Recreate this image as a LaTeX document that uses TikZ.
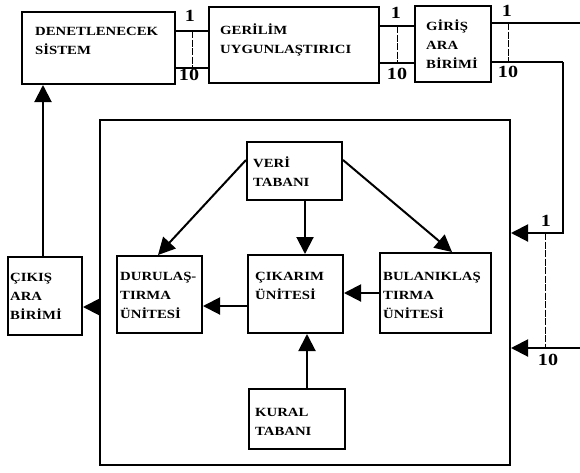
\documentclass[tikz,border=0pt]{standalone}
\usepackage{fontspec}
\setmainfont{Liberation Serif}[FakeStretch=1.18]
\usetikzlibrary{arrows.meta}

\begin{document}
\begin{tikzpicture}[x=1pt,y=-1pt,
    kutu/.style={draw,line width=2pt,inner sep=0pt},
    yazi/.style={anchor=base west,align=left,inner sep=0pt,font=\fontsize{12.5}{19}\selectfont\bfseries},
    sayi/.style={inner sep=0pt,font=\fontsize{17}{17}\selectfont\bfseries},
    hat/.style={line width=2pt},
    ok/.style={line width=2pt,-{Triangle[length=17pt,width=17pt]}},
    ara/.style={line width=0.8pt,dash pattern=on 7pt off 1.5pt}]
        \useasboundingbox (0,0) rectangle (580,472);
        \node[kutu,minimum width=153pt,minimum height=72pt] (sistem) at (98.5,48) {};
        \node[kutu,minimum width=170pt,minimum height=76pt] (gerilim) at (294,45) {};
        \node[kutu,minimum width=76pt,minimum height=76pt] (giris) at (453,44) {};
        \node[kutu,minimum width=410pt,minimum height=345pt] (ana) at (305,292.5) {};
        \node[kutu,minimum width=95pt,minimum height=58pt] (veri) at (294.5,171) {};
        \node[kutu,minimum width=95pt,minimum height=78pt] (cikarim) at (295.5,294) {};
        \node[kutu,minimum width=111pt,minimum height=80pt] (bulanik) at (435.5,293) {};
        \node[kutu,minimum width=85pt,minimum height=77pt] (durulas) at (159.5,294.5) {};
        \node[kutu,minimum width=74pt,minimum height=78pt] (cikis) at (45,296) {};
        \node[kutu,minimum width=96pt,minimum height=60pt] (kural) at (297,419) {};
        \node[yazi] (tsistem) at (35,54) {DENETLENECEK\\SİSTEM};
        \node[yazi] (tgerilim) at (220,53) {GERİLİM\\UYGUNLAŞTIRICI};
        \node[yazi] (tgiris) at (426,68) {GİRİŞ\\ARA\\BİRİMİ};
        \node[yazi] (tveri) at (253,186) {VERİ\\TABANI};
        \node[yazi] (tcikarim) at (255,299) {ÇIKARIM\\ÜNİTESİ};
        \node[yazi] (tbulanik) at (383,318) {BULANIKLAŞ\\TIRMA\\ÜNİTESİ};
        \node[yazi] (tdurulas) at (120,318) {DURULAŞ-\\TIRMA\\ÜNİTESİ};
        \node[yazi] (tcikis) at (10,319) {ÇIKIŞ\\ARA\\BİRİMİ};
        \node[yazi] (tkural) at (255,435) {KURAL\\TABANI};
        \coordinate (sag1) at (580,23); \coordinate (sag2) at (580,348);
        \coordinate (don) at (563,62);
        \draw[hat] (sistem.east |- 0,31) -- (gerilim.west |- 0,31);
        \draw[hat] (sistem.east |- 0,68) -- (gerilim.west |- 0,68);
        \draw[ara] (192,31) -- (192,68);
        \node[sayi] (s1) at (190,16) {1}; \node[sayi] (s10) at (189,75) {10};
        \draw[hat] (gerilim.east |- 0,26) -- (giris.west |- 0,26);
        \draw[hat] (gerilim.east |- 0,63) -- (giris.west |- 0,63);
        \draw[ara] (397,26) -- (397,63);
        \node[sayi] (g1) at (396,13) {1}; \node[sayi] (g10) at (397,74) {10};
        \draw[hat] (giris.east |- sag1) -- (sag1);
        \draw[hat] (giris.east |- don) -- (don);
        \draw[ara] (508,23) -- (508,62);
        \node[sayi] (r1) at (507,11) {1}; \node[sayi] (r10) at (508,72) {10};
        \draw[ok] (don) -- (563,233) -- (ana.east |- 0,233);
        \draw[ok] (sag2) -- (ana.east |- sag2);
        \draw[ara] (545,233) -- (545,348);
        \node[sayi] (a1) at (546,221) {1}; \node[sayi] (a10) at (548,360) {10};
        \draw[ok] (cikis.north -| 43,0) -- (sistem.south -| 43,0);
        \draw[ok] (ana.west |- 0,307) -- (cikis.east |- 0,307);
        \draw[ok] (cikarim.west |- 0,306) -- (durulas.east |- 0,306);
        \draw[ok] (bulanik.west |- 0,293) -- (cikarim.east |- 0,293);
        \draw[ok] (veri.south -| 305,0) -- (cikarim.north -| 305,0);
        \draw[ok] (veri.west |- 0,160) -- (durulas.north -| 158,0);
        \draw[ok] (veri.east |- 0,160) -- (bulanik.north -| 452,0);
        \draw[ok] (kural.north -| 307,0) -- (cikarim.south -| 307,0);
      \end{tikzpicture}
\end{document}
